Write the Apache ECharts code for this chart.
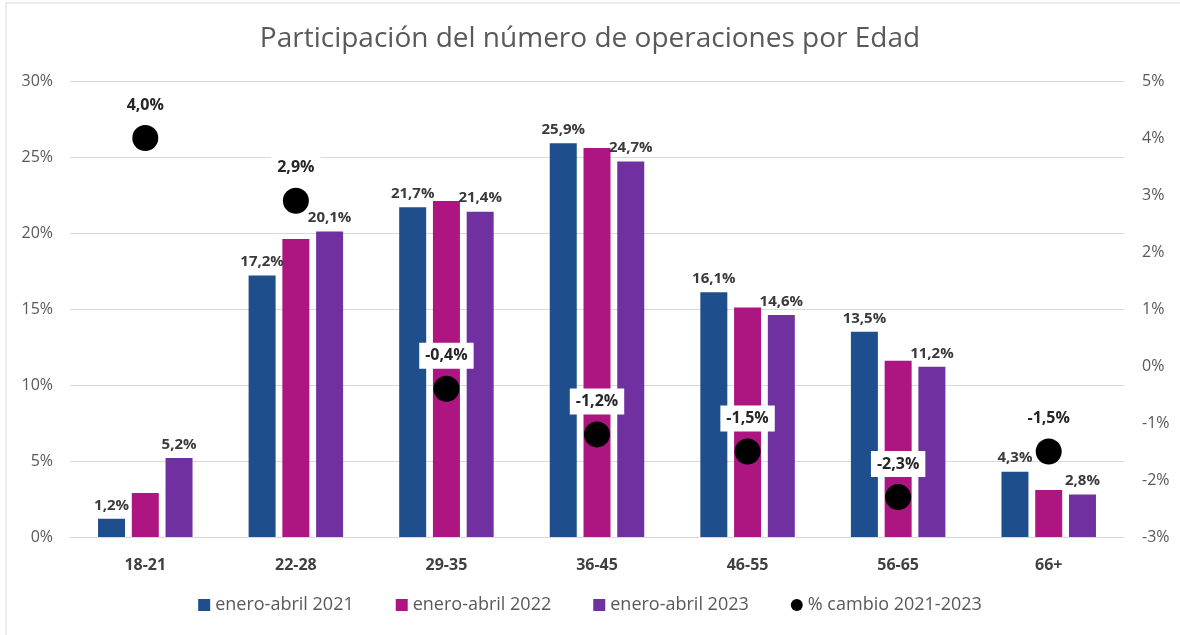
<!DOCTYPE html>
<html>
<head>
<meta charset="utf-8">
<script src="https://cdn.jsdelivr.net/npm/echarts@6/dist/echarts.min.js"></script>
<style>
  html, body { margin: 0; padding: 0; background: #ffffff; }
  #main { width: 1180px; height: 635px; }
</style>
</head>
<body>
<div id="main"></div>
<script>
// datos del gráfico
const edades = ['18-21', '22-28', '29-35', '36-45', '46-55', '56-65', '66+'];
const ene2021 = [1.2, 17.2, 21.7, 25.9, 16.1, 13.5, 4.3];
const ene2022 = [2.9, 19.6, 22.1, 25.6, 15.1, 11.6, 3.1];
const ene2023 = [5.2, 20.1, 21.4, 24.7, 14.6, 11.2, 2.8];
const cambio = [4.0, 2.9, -0.4, -1.2, -1.5, -2.3, -1.5];

const fmt = v => v.toFixed(1).replace('.', ',') + '%';
const fontFam = '"Open Sans", "Noto Sans", sans-serif';

const chart = echarts.init(document.getElementById('main'));

const barLabel = {
  show: true,
  position: 'top',
  distance: 6,
  color: '#3a3a3a',
  fontWeight: 'bold',
  fontSize: 15,
  fontFamily: fontFam,
  formatter: p => fmt(p.value)
};

var option = {
  backgroundColor: '#ffffff',
  animation: false,
  textStyle: { fontFamily: fontFam },
  // marco gris del gráfico
  graphic: [{
    type: 'rect',
    shape: { x: 6, y: 3, width: 1180, height: 640 },
    style: { fill: 'none', stroke: '#d9d9d9', lineWidth: 1 },
    silent: true
  }],
  title: {
    text: 'Participación del número de operaciones por Edad',
    left: 'center',
    top: 20,
    textStyle: { color: '#595959', fontSize: 28, fontWeight: 'normal', fontFamily: fontFam }
  },
  legend: {
    bottom: 16,
    left: 'center',
    itemWidth: 12,
    itemHeight: 12,
    itemGap: 42,
    textStyle: { color: '#595959', fontSize: 18, fontFamily: fontFam },
    data: [
      { name: 'enero-abril 2021', icon: 'rect' },
      { name: 'enero-abril 2022', icon: 'rect' },
      { name: 'enero-abril 2023', icon: 'rect' },
      { name: '% cambio 2021-2023', icon: 'circle' }
    ]
  },
  grid: { left: 70, right: 56, top: 81, bottom: 98 },
  xAxis: {
    type: 'category',
    data: edades,
    axisTick: { show: false },
    axisLine: { lineStyle: { color: '#d9d9d9', width: 1 } },
    axisLabel: { color: '#404040', fontSize: 16, fontWeight: 'bold', margin: 20, fontFamily: fontFam }
  },
  yAxis: [
    {
      type: 'value',
      min: 0,
      max: 30,
      interval: 5,
      axisLabel: { color: '#595959', fontSize: 16, margin: 17, formatter: v => v + '%' },
      splitLine: { lineStyle: { color: '#d9d9d9', width: 1 } }
    },
    {
      type: 'value',
      min: -3,
      max: 5,
      interval: 1,
      axisLabel: { color: '#595959', fontSize: 16, margin: 18, formatter: v => v + '%' },
      splitLine: { show: false }
    }
  ],
  series: [
    {
      name: 'enero-abril 2021',
      type: 'bar',
      data: ene2021,
      barWidth: 27,
      barGap: '25%',
      itemStyle: { color: '#1f4e8c' },
      label: barLabel
    },
    {
      name: 'enero-abril 2022',
      type: 'bar',
      data: ene2022,
      barWidth: 27,
      barGap: '25%',
      itemStyle: { color: '#ad1580' }
    },
    {
      name: 'enero-abril 2023',
      type: 'bar',
      data: ene2023,
      barWidth: 27,
      barGap: '25%',
      itemStyle: { color: '#7030a0' },
      label: barLabel
    },
    {
      name: '% cambio 2021-2023',
      type: 'scatter',
      yAxisIndex: 1,
      data: cambio,
      symbolSize: 26,
      itemStyle: { color: '#000000', opacity: 1 },
      z: 5,
      label: {
        show: true,
        position: 'top',
        distance: 7,
        color: '#262626',
        fontWeight: 'bold',
        fontSize: 16,
        fontFamily: fontFam,
        backgroundColor: '#ffffff',
        opacity: 1,
        padding: [5, 6, 5, 6],
        formatter: p => fmt(p.value)
      }
    }
  ]
};

chart.setOption(option);
</script>
</body>
</html>
